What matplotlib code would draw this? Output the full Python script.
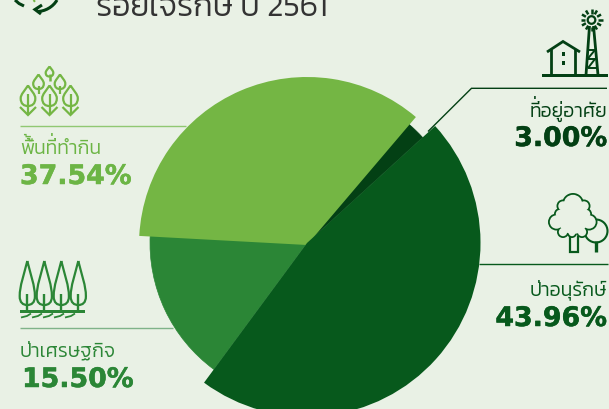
import numpy as np
import matplotlib
matplotlib.use('Agg')
import matplotlib.pyplot as plt
import matplotlib.patheffects as pe
from matplotlib.patches import Wedge, Circle, PathPatch, Rectangle
from matplotlib.path import Path

# ---- data ----
categories = ['พื้นที่ทำกิน', 'ที่อยู่อาศัย', 'ป่าอนุรักษ์', 'ป่าเศรษฐกิจ']
value_labels = ['37.54%', '3.00%', '43.96%', '15.50%']
# share of the circle that each slice occupies in the drawing
drawn_share = [35.36, 2.00, 46.89, 15.75]
title_text = 'ร้อยใจรักษ์ ปี 2561'

# ---- style ----
BG = '#E9F1E5'
C_LIGHT, C_DARKEST, C_DARK, C_MED = '#74B644', '#034014', '#07591C', '#2B8636'
colors = [C_LIGHT, C_DARKEST, C_DARK, C_MED]
centres = [(307, 245), (307, 243), (307, 243), (307, 243)]
radii = [168, 156.5, 173.5, 157]
draw_order = [3, 1, 0, 2]
START_ANGLE = 176.9
THAI = ['Kanit', 'DejaVu Sans']
LABEL_SIZE = 14

W, H = 609, 409
fig = plt.figure(figsize=(W / 100, H / 100), dpi=100, facecolor=BG)
ax = fig.add_axes([0, 0, 1, 1])
ax.set_xlim(0, W)
ax.set_ylim(H, 0)
ax.axis('off')
renderer = fig.canvas.get_renderer()


def line(xs, ys, c, lw=1.0, z=5, cap='butt', join='miter'):
    ax.plot(xs, ys, color=c, lw=lw, solid_capstyle=cap, solid_joinstyle=join, zorder=z)


# ---- pie ----
sweeps = np.array(drawn_share) * 3.6
ends = START_ANGLE - np.cumsum(sweeps)
starts = ends + sweeps
for z, i in enumerate(draw_order):
    # the y axis is inverted, so screen angle a becomes -a
    edge = colors[i] if i in (1, 3) else 'none'
    ax.add_patch(Wedge(centres[i], radii[i], -starts[i], -ends[i], fc=colors[i], ec=edge, lw=0.5, zorder=2 + z * 0.1))

# ---- rules ----
line([20, 186], [126, 126], '#90C872', 1.0)
line([20, 173], [327.7, 327.7], '#7FB389', 1.0)
line([607, 471.5, 428], [88.3, 88.3, 131.5], C_DARKEST, 1.0)
line([479, 608], [264.3, 264.3], C_DARK, 1.0)

# ---- texts ----
ax.text(96, 16.5, title_text, family=THAI, weight=300, fontsize=23, color='#333333', va='baseline', ha='left', zorder=6)


def width_of(s):
    t = ax.text(0, 0, s, family=THAI, weight=300, fontsize=LABEL_SIZE)
    w = t.get_window_extent(renderer).width
    t.remove()
    return w


def thai(x, y, s, c, ha, raised=()):
    ax.text(x, y, s, family=THAI, weight=300, fontsize=LABEL_SIZE, color=c, va='baseline', ha=ha, zorder=6)
    # matplotlib has no Thai shaping: lift tone marks that sit on an upper vowel
    left = x if ha == 'left' else x - width_of(s)
    for pos in raised:
        mx = left + width_of(s[:pos]) - 3.6
        ax.text(mx, y - 4.6, s[pos], family=THAI, weight=300, fontsize=LABEL_SIZE, color=c,
                va='baseline', ha='center', zorder=6)


def num(x, y, s, c, ha):
    ax.text(x, y, s, family='DejaVu Sans', weight='bold', fontsize=19.3, color=c, va='baseline', ha=ha, zorder=6,
            path_effects=[pe.withStroke(linewidth=0.35, foreground=c)])


thai(20, 154, categories[0], '#6CB545', 'left', raised=(2, 6))
num(20, 184, value_labels[0], '#6CB545', 'left')
thai(607, 117, categories[1], C_DARKEST, 'right', raised=(2,))
num(607, 146, value_labels[1], C_DARKEST, 'right')
thai(607, 295, categories[2], C_DARK, 'right')
num(607, 326, value_labels[2], C_DARK, 'right')
thai(20, 357, categories[3], C_MED, 'left')
num(22, 387, value_labels[3], C_MED, 'left')


# ---- icons ----
def leaf(cx, top, bottom, hw, c, lw, z=5, k=0.38):
    mid = bottom - (bottom - top) * k
    verts = [(cx, top), (cx + hw * 0.45, top + (mid - top) * 0.4), (cx + hw, mid - (mid - top) * 0.3), (cx + hw, mid),
             (cx + hw, bottom - (bottom - mid) * 0.25), (cx + hw * 0.55, bottom), (cx, bottom),
             (cx - hw * 0.55, bottom), (cx - hw, bottom - (bottom - mid) * 0.25), (cx - hw, mid),
             (cx - hw, mid - (mid - top) * 0.3), (cx - hw * 0.45, top + (mid - top) * 0.4), (cx, top)]
    codes = [Path.MOVETO] + [Path.CURVE4] * 12
    ax.add_patch(PathPatch(Path(verts, codes), fc='none', ec=c, lw=lw, zorder=z))


# recycle arrows (top-left, cut by the edge)
line([15, 19, 24], [0, 3.5, 6], C_DARKEST, 2.2)
ax.add_patch(PathPatch(Path([(37, 11.5), (45, 11.5), (53, 7), (57, 0)], [Path.MOVETO, Path.CURVE4, Path.CURVE4, Path.CURVE4]),
                       fc='none', ec=C_DARKEST, lw=2.2, zorder=5))
line([42, 35, 41], [5, 9.5, 14], C_DARKEST, 2.2)
line([33.5, 35], [0, 1.8], C_LIGHT, 1.5)

# field of sprouts
for cx in (28, 49.5, 70.5):
    leaf(cx, 85.5, 106, 7.3, C_LIGHT, 1.6)
    line([cx, cx], [94, 115], C_LIGHT, 1.6)
    line([cx - 8, cx, cx + 8], [107, 115, 107], C_LIGHT, 1.6)
for cx in (38.5, 60):
    leaf(cx, 74.5, 89, 5.3, C_LIGHT, 1.6)
    line([cx, cx], [86, 94], C_LIGHT, 1.6)
leaf(49.5, 66.5, 76.5, 3.8, C_LIGHT, 1.6)
line([49.5, 49.5], [74, 81], C_LIGHT, 1.8)

# row of tall trees
for cx in (27.3, 44.3, 61.3, 78.3):
    leaf(cx, 261, 305, 7.6, C_MED, 1.6, k=0.2)
    line([cx, cx], [294, 311], C_MED, 1.7)
ax.add_patch(Rectangle((20, 310), 65, 2.8, fc=C_MED, ec='none', zorder=5))
for x0 in (21, 32, 43, 54, 65):
    line([x0, x0 + 6, x0 + 10], [317.5, 316, 313.5], C_MED, 1.3)

# broadleaf tree
bumps = [(573, 204, 11), (563, 206, 6.5), (584, 206, 6.5), (556.5, 222, 8.5), (589, 222, 8.5), (560, 214, 6),
         (586, 214, 6), (563, 232, 6), (572, 233, 5), (582, 232, 6)]
ax.add_patch(Circle((596, 231), 11.5, fc='none', ec=C_DARK, lw=1.5, zorder=4))
for c_x, c_y, r in bumps:
    ax.add_patch(Circle((c_x, c_y), r, fc=C_DARK, ec='none', zorder=4.2))
for c_x, c_y, r in bumps:
    ax.add_patch(Circle((c_x, c_y), r - 1.8, fc=BG, ec='none', zorder=4.3))
ax.add_patch(Circle((573, 219), 15, fc=BG, ec='none', zorder=4.3))
line([569.5, 569.5, 577.5, 577.5], [236, 251.5, 251.5, 236], C_DARK, 1.6, z=4.4)
line([595.5, 595.5], [241, 252], C_DARK, 2.4, z=4.4)

# house and wind pump
ax.add_patch(Rectangle((542, 74), 66, 3, fc=C_DARKEST, ec='none', zorder=5))
line([547, 563, 580], [52, 41.5, 52], C_DARKEST, 2.0)
line([551, 551], [49, 75], C_DARKEST, 2.0)
line([575, 575], [49, 75], C_DARKEST, 2.0)
for wy in (54, 63):
    ax.add_patch(Rectangle((562, wy - 2), 3.2, 3.6, fc=C_DARKEST, ec='none', zorder=5))
rx, ry = 591.5, 20
ax.add_patch(Circle((rx, ry), 3.8, fc='none', ec=C_DARKEST, lw=1.6, zorder=5))
for a in np.radians(np.arange(0, 360, 30)):
    line([rx + 6.5 * np.cos(a), rx + 11 * np.cos(a)], [ry + 6.5 * np.sin(a), ry + 11 * np.sin(a)], C_DARKEST, 1.8)
line([589.5, 586], [26, 75], C_DARKEST, 2.0)
line([593.5, 598], [26, 75], C_DARKEST, 2.0)
line([588, 595, 587.5, 596], [50, 50, 59, 59], C_DARKEST, 1.4)
line([595, 588, 597], [59, 68, 68], C_DARKEST, 1.4)

fig.savefig('out.png', dpi=100, facecolor=BG)
